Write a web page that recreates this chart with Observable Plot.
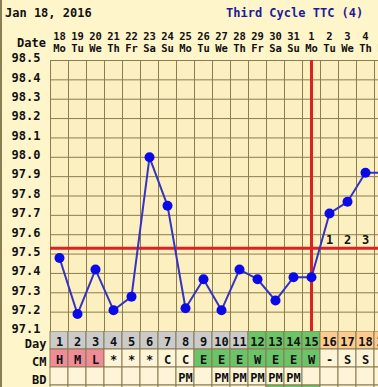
<!DOCTYPE html>
<html><head><meta charset="utf-8">
<script src="https://cdn.jsdelivr.net/npm/d3@7"></script>
<script src="https://cdn.jsdelivr.net/npm/@observablehq/plot@0.6"></script>
<style>
body{margin:0;background:#fff;}
#wrap{position:relative;width:378px;height:387px;overflow:hidden;background:#FFF5CB;font-family:"DejaVu Sans Mono",monospace;font-weight:bold;}
#wrap .lbl{position:absolute;font-size:12px;line-height:12px;white-space:pre;color:#111;}
#edge{position:absolute;left:0;top:0;width:2px;height:387px;background:#8a7d52;}
</style></head><body>
<div id="wrap">
  <div class="lbl" style="left:5px;top:7px;">Jan 18, 2016</div>
  <div class="lbl" style="left:226px;top:7px;color:#1b1b9a;">Third Cycle TTC (4)</div>
  <div class="lbl" style="right:332px;top:37px;">Date</div>
  <div id="temp" style="position:absolute;left:0;top:0;width:378px;height:345px;overflow:hidden;"></div>
  <div id="rows" style="position:absolute;left:0;top:331px;width:378px;height:56px;overflow:hidden;"></div>
  <div id="edge"></div>
</div>
<script>
// ---- data ----
const days = [1,2,3,4,5,6,7,8,9,10,11,12,13,14,15,16,17,18,19];
const dates = ["18","19","20","21","22","23","24","25","26","27","28","29","30","31","1","2","3","4","5"];
const weekdays = ["Mo","Tu","We","Th","Fr","Sa","Su","Mo","Tu","We","Th","Fr","Sa","Su","Mo","Tu","We","Th","Fr"];
const temps = [97.48,97.19,97.42,97.21,97.28,98.00,97.75,97.22,97.37,97.21,97.42,97.37,97.26,97.38,97.38,97.71,97.77,97.92,97.92];
const yTicks = [98.5,98.4,98.3,98.2,98.1,98.0,97.9,97.8,97.7,97.6,97.5,97.4,97.3,97.2,97.1];
const coverline = 97.53;
const ovulationDay = 15;
const highDays = [16,17,18];
const highLabels = ["1","2","3"];
const dayPhase = ["n","n","n","n","n","n","n","n","n","n","n","f","f","f","f","l","l","l","l"];
const cmCodes = ["H","M","L","*","*","*","C","C","E","E","E","W","E","E","W","-","S","S",""];
const bdCodes = ["","","","","","","","PM","","PM","PM","PM","PM","PM","","","","",""];
const nextRowFlags = [0,0,0,0,0,0,0,0,0,0,0,0,1,1,1,0,0,0,0];
const rowNames = ["Day","CM","BD","X"];
const rowLabels = ["Day","CM","BD"];

// ---- styles ----
const GRID = "#8a7d52", RED = "#dd2222", CREAM = "#FEF4D8", PLOTBG = "#FCEFC0";
const GRAY = "#CBCBCB", GREEN = "#6CC46A", ORANGE = "#FDCB92", PINK = "#F08C98";
const xDomain = [0.5, 18.5 + 4/18];
const font = {fontFamily:"DejaVu Sans Mono, monospace", fontWeight:"bold", fontSize:"12px", background:"transparent", color:"#111"};
const bounds = [0.5, ...days.map(d => d + 0.5)];

const temp = Plot.plot({
  width: 378, height: 345, marginTop: 60, marginLeft: 50, marginRight: 0, marginBottom: 14,
  x: {domain: xDomain, axis: null},
  y: {domain: [97.1, 98.5], axis: null},
  style: font,
  marks: [
    Plot.frame({fill: PLOTBG, stroke: "none"}),
    Plot.ruleX(bounds, {stroke: GRID, strokeWidth: 1}),
    Plot.ruleY(yTicks, {stroke: GRID, strokeWidth: 1}),
    Plot.text(yTicks, {y: d => d, text: d => d.toFixed(1), frameAnchor: "left", textAnchor: "end", dx: -10, dy: -2, fontSize: 12}),
    Plot.text(days, {x: d => d, text: (d, i) => dates[i], frameAnchor: "top", dy: -28, fontSize: 10.5}),
    Plot.text(days, {x: d => d, text: (d, i) => weekdays[i], frameAnchor: "top", dy: -16, fontSize: 10.5}),
    Plot.ruleY([coverline], {stroke: RED, strokeWidth: 3}),
    Plot.ruleX([ovulationDay], {stroke: RED, strokeWidth: 3}),
    Plot.text(highDays, {x: d => d, y: () => coverline, text: (d, i) => highLabels[i], dy: -8, fontSize: 12}),
    Plot.line(days, {x: d => d, y: (d, i) => temps[i], stroke: "#3434C0", strokeWidth: 2}),
    Plot.dot(days, {x: d => d, y: (d, i) => temps[i], r: 5, fill: "#0a0ae6", stroke: "none"})
  ]
});
document.getElementById("temp").append(temp);

const phaseColor = {n: GRAY, f: GREEN, l: ORANGE};
function cmColor(c) { return "HML".includes(c) && c ? PINK : ("EW".includes(c) && c ? GREEN : CREAM); }
const cells = [
  ...days.map((d, i) => ({row: "Day", day: d, fill: phaseColor[dayPhase[i]], text: String(d)})),
  ...days.map((d, i) => ({row: "CM", day: d, fill: cmColor(cmCodes[i]), text: cmCodes[i]})),
  ...days.map((d, i) => ({row: "BD", day: d, fill: CREAM, text: bdCodes[i]})),
  ...days.map((d, i) => ({row: "X", day: d, fill: nextRowFlags[i] ? GREEN : CREAM, text: ""}))
];

const rows = Plot.plot({
  width: 378, height: 72, marginTop: 0, marginLeft: 50, marginRight: 0, marginBottom: 0,
  x: {domain: xDomain, axis: null},
  y: {domain: rowNames, padding: 0, axis: null},
  style: font,
  marks: [
    Plot.barX(cells, {x1: d => d.day - 0.5, x2: d => d.day + 0.5, y: "row", fill: "fill", stroke: GRID, strokeWidth: 1, inset: 0}),
    Plot.text(cells, {x: "day", y: "row", text: "text", dy: 2, fontSize: 12}),
    Plot.text(rowLabels, {y: d => d, text: d => d, frameAnchor: "left", textAnchor: "end", dx: -4, dy: 4, fontSize: 12})
  ]
});
document.getElementById("rows").append(rows);
</script>
</body></html>
